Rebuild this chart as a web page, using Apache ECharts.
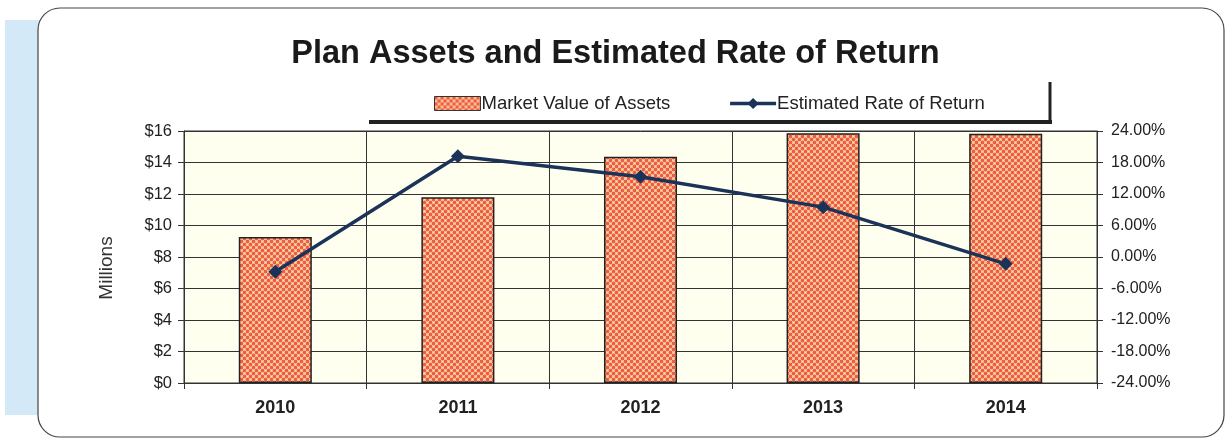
<!DOCTYPE html>
<html><head><meta charset="utf-8">
<script src="https://cdn.jsdelivr.net/npm/echarts@6/dist/echarts.min.js"></script>
<style>html,body{margin:0;padding:0;background:#fff}#c{width:1231px;height:440px}</style>
</head><body><div id="c"></div>
<script>
const categories = ['2010','2011','2012','2013','2014'];
const marketValue = [9.27, 11.8, 14.37, 15.85, 15.82];
const rateOfReturn = [-2.8, 19.2, 15.3, 9.5, -1.3];
const leftTicks = [0,2,4,6,8,10,12,14,16];
const rightTicks = [-24,-18,-12,-6,0,6,12,18,24];

const cv = document.createElement('canvas');
cv.width = 6; cv.height = 6;
const g = cv.getContext('2d');
g.fillStyle = '#fbea9c'; g.fillRect(0,0,6,6);
g.fillStyle = '#ee5a50';
[[1.5,1.5],[4.5,4.5],[-1.5,4.5],[7.5,1.5],[1.5,7.5],[4.5,-1.5]].forEach(p=>{g.beginPath();g.arc(p[0],p[1],1.9,0,Math.PI*2);g.fill();});
const pat = {image:cv,repeat:'repeat'};

const chart = echarts.init(document.getElementById('c'));
chart.setOption({
  backgroundColor:'#fff',
  animation:false,
  title:{text:'Plan Assets and Estimated Rate of Return',left:'center',top:33,
    textStyle:{fontFamily:'Liberation Sans',fontSize:32.5,fontWeight:'bold',color:'#1a1a1a'}},
  legend:{top:89,left:429,itemGap:58,itemWidth:46,itemHeight:14,
    textStyle:{fontFamily:'Liberation Sans',fontSize:18.5,color:'#222',padding:[0,0,0,-4]},
    data:[{name:'Market Value of Assets',icon:'rect',itemStyle:{color:pat,borderColor:'#333',borderWidth:1}},
          {name:'Estimated Rate of Return',lineStyle:{width:3.5,color:'#1b3358'}}]},
  grid:{left:184,right:134,top:131,bottom:57,show:true,backgroundColor:'#fffff0',borderColor:'#333',borderWidth:1},
  graphic:[
    {type:'rect',z:-10,shape:{x:5,y:20,width:40,height:395},style:{fill:'#d3e9f8'}},
    {type:'rect',z:-9,shape:{x:38,y:8,width:1186,height:429,r:22},style:{fill:'#fff',stroke:'#444',lineWidth:1.2}},
    {type:'line',shape:{x1:369,y1:122,x2:1052,y2:122},style:{stroke:'#222',lineWidth:4}},
    {type:'line',shape:{x1:1050,y1:82,x2:1050,y2:124},style:{stroke:'#222',lineWidth:3}}
  ],
  xAxis:{type:'category',data:categories,
    axisLine:{lineStyle:{color:'#333'}},
    axisTick:{show:true,length:6,lineStyle:{color:'#333'}},
    splitLine:{show:true,lineStyle:{color:'#333',width:1}},
    axisLabel:{fontFamily:'Liberation Sans',fontSize:18,fontWeight:'bold',color:'#222',margin:16}},
  yAxis:[
    {type:'value',min:0,max:16,interval:2,name:'Millions',nameLocation:'middle',nameGap:68,
     nameTextStyle:{fontFamily:'Liberation Sans',fontSize:19,color:'#333',padding:[0,22,0,0]},
     axisLine:{show:true,lineStyle:{color:'#333'}},axisTick:{show:true,length:6,lineStyle:{color:'#333'}},
     splitLine:{show:true,lineStyle:{color:'#333',width:1}},
     axisLabel:{fontFamily:'Liberation Sans',fontSize:16.5,color:'#222',margin:12,
       formatter:v=>leftTicks.includes(v)?'$'+v:''}},
    {type:'value',min:-24,max:24,interval:6,
     axisLine:{show:true,lineStyle:{color:'#333'}},axisTick:{show:true,length:6,lineStyle:{color:'#333'}},
     splitLine:{show:false},
     axisLabel:{fontFamily:'Liberation Sans',fontSize:16,color:'#222',margin:14,
       formatter:v=>rightTicks.includes(v)?v.toFixed(2)+'%':''}}
  ],
  series:[
    {name:'Market Value of Assets',type:'bar',data:marketValue,barWidth:'40%',
     itemStyle:{color:pat,borderColor:'#222',borderWidth:1.5}},
    {name:'Estimated Rate of Return',type:'line',yAxisIndex:1,data:rateOfReturn,
     symbol:'diamond',symbolSize:14,lineStyle:{color:'#1b3358',width:3.5},
     itemStyle:{color:'#1b3358'}}
  ]
});
</script></body></html>
